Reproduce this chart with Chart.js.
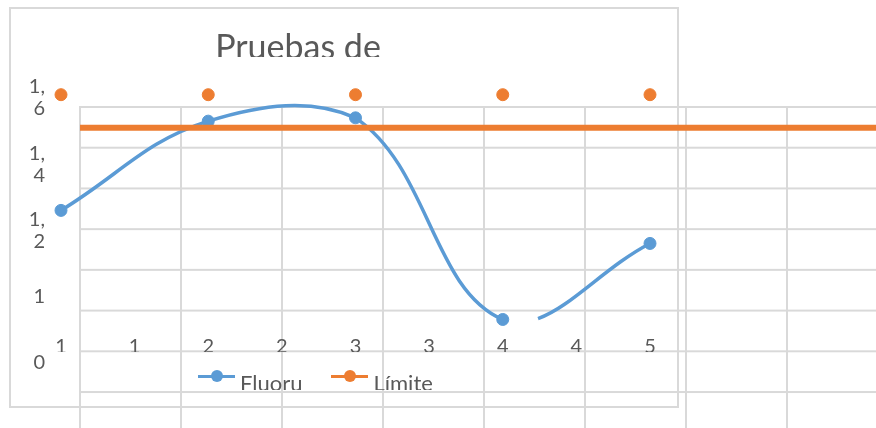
<!DOCTYPE html>
<html>
<head>
<meta charset="utf-8">
<script src="https://cdn.jsdelivr.net/npm/chart.js@4.4.0/dist/chart.umd.min.js"></script>
<style>
  html, body { margin: 0; padding: 0; background: #fff; }
  #page { position: relative; width: 876px; height: 428px; overflow: hidden; font-family: Lato, sans-serif; color: #595959; }
  /* celdas de la hoja detras del grafico */
  #sheet { position: absolute; left: 79px; top: 106px; right: 0; bottom: 0;
    background-image: linear-gradient(to right, #d9d9d9 2px, transparent 2px),
                      linear-gradient(to bottom, #d9d9d9 2px, transparent 2px);
    background-size: 101px 40.72px; }
  #frame { position: absolute; left: 9px; top: 7px; width: 670px; height: 401px; border: 2px solid #d9d9d9; box-sizing: border-box; }
  #chart { position: absolute; left: 0; top: 0; }
  #title { position: absolute; left: 98px; top: 26px; width: 400px; height: 31px; overflow: hidden;
    text-align: center; font-size: 34px; line-height: 40px; white-space: nowrap; }
  #legend { position: absolute; left: 198px; top: 368px; height: 22px; overflow: hidden; display: flex;
    font-size: 22px; line-height: 30px; white-space: nowrap; }
  #legend .item { display: flex; margin-right: 29px; }
  #legend .swatch { position: relative; width: 37px; height: 30px; margin-right: 5px; }
  #legend .ln { position: absolute; left: 0; right: 0; top: 6.5px; height: 3px; }
  #legend .dot { position: absolute; left: 12.5px; top: 2px; width: 12px; height: 12px; border-radius: 50%; }
</style>
</head>
<body>
<div id="page">
  <div id="sheet"></div>
  <div id="frame"></div>
  <canvas id="chart" width="876" height="428"></canvas>
  <div id="title">Pruebas de</div>
  <div id="legend"></div>
</div>
<script>
// valores
const muestras = [1, 2, 3, 4, 5];
const fluoruro = [1.26, 1.53, 1.54, 0.93, 1.16];
const limite = [1.61, 1.61, 1.61, 1.61, 1.61];
const lineaLimite = 1.51;

// eje y: marcas y etiquetas tal como se ven (el eje visible empieza un poco por encima de 0,8)
const yMin = 0.88;
const yMax = 1.6;
const yTicks = [0.8, 1.0, 1.2, 1.4, 1.6];
const yLabels = ['0', '1', ['1,', '2'], ['1,', '4'], ['1,', '6']];
const xLabels = ['1', '1', '2', '2', '3', '3', '4', '4', '5'];

const COLORS = {
  blue: '#5b9bd5',
  orange: '#ed7d31',
  text: '#595959'
};

function toPoints(values) {
  return values.map((v, i) => ({ x: muestras[i], y: v }));
}

// linea horizontal del limite, encima de la serie
const limitLinePlugin = {
  id: 'limitLine',
  afterDatasetsDraw(chart) {
    const y = chart.scales.y.getPixelForValue(lineaLimite);
    const ctx = chart.ctx;
    ctx.save();
    ctx.strokeStyle = COLORS.orange;
    ctx.lineWidth = 6;
    ctx.beginPath();
    ctx.moveTo(80, y);
    ctx.lineTo(chart.width, y);
    ctx.stroke();
    ctx.restore();
  }
};

const tickFont = { family: 'Lato', size: 20, lineHeight: 1.1 };

const config = {
  type: 'line',
  data: {
    datasets: [
      {
        label: 'Fluoru',
        data: toPoints(fluoruro),
        borderColor: COLORS.blue,
        backgroundColor: COLORS.blue,
        borderWidth: 3.5,
        pointRadius: 6,
        pointBorderWidth: 1,
        tension: 0.4,
        clip: false,
        // tramo cortado junto al punto 4
        segment: {
          borderDash: ctx => ctx.p0DataIndex === 3 ? [0, 36, 2000] : undefined
        }
      },
      {
        label: 'Límite',
        data: toPoints(limite),
        borderColor: COLORS.orange,
        backgroundColor: COLORS.orange,
        showLine: false,
        pointRadius: 6,
        pointBorderWidth: 1,
        clip: false
      }
    ]
  },
  options: {
    responsive: false,
    animation: false,
    layout: { padding: { left: 10, right: 226, top: 98, bottom: 76 } },
    plugins: {
      legend: { display: false },
      title: { display: false },
      tooltip: { enabled: false }
    },
    scales: {
      x: {
        type: 'linear',
        min: 1,
        max: 5,
        grid: { display: false, drawTicks: false },
        border: { display: false },
        ticks: {
          stepSize: 0.5,
          autoSkip: false,
          maxRotation: 0,
          padding: 0,
          color: COLORS.text,
          font: tickFont,
          callback: (value, index) => xLabels[index]
        },
        afterFit: scale => { scale.height = 16; }
      },
      y: {
        min: yMin,
        max: yMax,
        grid: { display: false, drawTicks: false },
        border: { display: false },
        ticks: {
          padding: 16,
          color: COLORS.text,
          font: tickFont,
          callback: (value, index) => yLabels[index]
        },
        afterBuildTicks: scale => { scale.ticks = yTicks.map(v => ({ value: v })); },
        afterFit: scale => { scale.width = 51; }
      }
    }
  },
  plugins: [limitLinePlugin]
};

const chart = new Chart(document.getElementById('chart'), config);

// leyenda en html, a partir de las series
const legendBox = document.getElementById('legend');
chart.data.datasets.forEach(ds => {
  const item = document.createElement('div');
  item.className = 'item';
  item.innerHTML = '<span class="swatch"><i class="ln" style="background:' + ds.borderColor +
    '"></i><i class="dot" style="background:' + ds.borderColor + '"></i></span>';
  item.appendChild(document.createTextNode(ds.label));
  legendBox.appendChild(item);
});
</script>
</body>
</html>
